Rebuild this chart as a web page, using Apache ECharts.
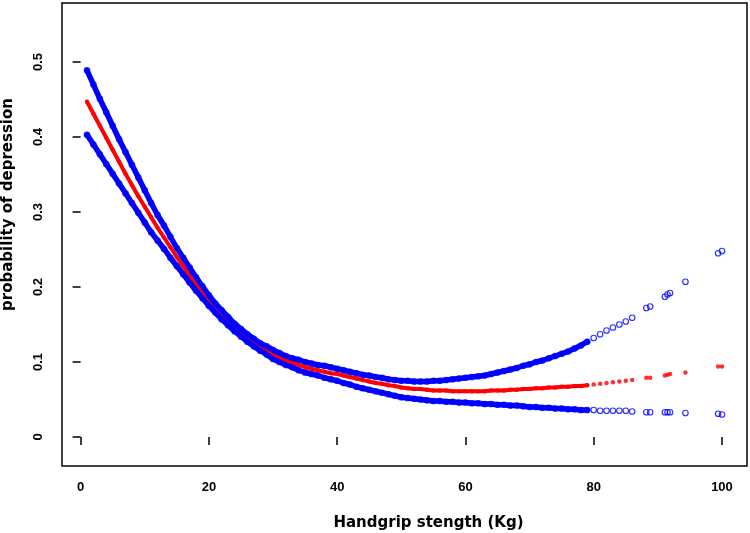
<!DOCTYPE html>
<html><head><meta charset="utf-8">
<script src="https://cdn.jsdelivr.net/npm/echarts@6/dist/echarts.min.js"></script>
<style>html,body{margin:0;padding:0;background:#fff}#c{width:750px;height:533px}</style>
</head><body><div id="c"></div>
<script>
const handgrip = [1,2,3,4,5,6,7,8,9,10,11,12,13,14,15,16,17,18,19,20,21,22,23,24,25,26,27,28,29,30,
  31,32,33,34,35,36,37,38,39,40,41,42,43,44,45,46,47,48,49,50,51,52,53,54,55,56,57,58,59,60,
  61,62,63,64,65,66,67,68,69,70,71,72,73,74,75,76,77,78,79,80,81,82,83,84,85,86,
  88.2,88.8,91.1,91.5,91.9,94.3,99.4,100];
const estimate = [.447,.431,.415,.399,.383,.367,.351,.336,.321,.307,
  .293,.279,.266,.253,.240,.228,.216,.204,.193,.182,
  .172,.163,.154,.146,.139,.132,.126,.120,.115,.110,
  .106,.102,.099,.096,.093,.091,.089,.087,.085,.084,
  .082,.080,.078,.076,.074,.072,.071,.069,.068,.066,
  .065,.064,.064,.063,.062,.062,.062,.061,.061,.061,
  .061,.061,.061,.062,.062,.062,.063,.063,.064,.064,
  .065,.065,.066,.066,.067,.067,.068,.068,.069,.070,
  .071,.072,.073,.074,.075,.076,
  .079,.079,.082,.083,.084,.086,.094,.094];
const upperCI = [.489,.470,.451,.433,.415,.397,.380,.363,.346,.329,
  .312,.296,.282,.267,.252,.239,.226,.213,.201,.189,
  .178,.169,.160,.151,.144,.137,.131,.125,.121,.116,
  .112,.108,.105,.103,.100,.098,.096,.095,.093,.091,
  .089,.087,.085,.083,.082,.080,.079,.077,.076,.075,
  .075,.074,.074,.074,.075,.075,.076,.077,.078,.079,
  .080,.081,.082,.084,.086,.088,.090,.092,.095,.097,
  .100,.102,.105,.108,.111,.114,.118,.122,.127,.132,
  .137,.142,.146,.150,.154,.159,
  .172,.174,.187,.190,.192,.207,.245,.248];
const lowerCI = [.403,.390,.377,.364,.351,.338,.325,.312,.299,.286,
  .273,.262,.251,.239,.228,.217,.206,.195,.185,.175,
  .166,.157,.149,.141,.134,.127,.121,.115,.110,.104,
  .100,.096,.093,.089,.086,.084,.082,.079,.077,.075,
  .072,.070,.067,.065,.063,.061,.059,.057,.055,.053,
  .052,.051,.050,.049,.048,.048,.047,.047,.046,.046,
  .045,.045,.044,.044,.043,.043,.042,.042,.041,.040,
  .040,.039,.039,.038,.038,.037,.037,.036,.036,.036,
  .035,.035,.035,.035,.035,.034,
  .033,.033,.033,.033,.033,.032,.031,.030];
const xTicks = [0,20,40,60,80,100];
const yTicks = [0,0.1,0.2,0.3,0.4,0.5];
const denseLimit = 79;

const BLUE = '#0000ff', RED = '#ff0000';
function pts(ys){ return handgrip.map((x,i)=>[x, ys[i]]); }
function densePts(ys){ return pts(ys).filter(p=>p[0]<=denseLimit); }

const chart = echarts.init(document.getElementById('c'), null, {renderer:'canvas'});
const tickLabel = {fontFamily:'Liberation Sans, Arial, sans-serif', fontWeight:'bold', fontSize:13, color:'#000'};
const titleBase = {fontFamily:'DejaVu Sans, Verdana, sans-serif', fontWeight:'bold', fontSize:15, color:'#000'};
chart.setOption({
  animation:false,
  backgroundColor:'#fff',
  grid:{left:62, right:3, top:3, bottom:67, containLabel:false, outerBoundsMode:'none', show:true, borderColor:'#000', borderWidth:1.5, backgroundColor:'transparent'},
  xAxis:{type:'value', min:-2.9, max:103.9,
    name:'Handgrip stength (Kg)', nameLocation:'middle', nameGap:50,
    nameTextStyle:Object.assign({padding:[0,0,0,48]}, titleBase),
    axisLine:{show:false}, splitLine:{show:false},
    axisTick:{show:true, inside:false, length:8, customValues:xTicks, lineStyle:{color:'#000', width:1.5}},
    axisLabel:Object.assign({customValues:xTicks, margin:15}, tickLabel)},
  yAxis:{type:'value', min:-0.0387, max:0.5787,
    name:'probability of depression', nameLocation:'middle', nameRotate:90, nameGap:46,
    nameTextStyle:Object.assign({padding:[0,0,0,60]}, titleBase),
    axisLine:{show:false}, splitLine:{show:false},
    axisTick:{show:true, inside:false, length:8, customValues:yTicks, lineStyle:{color:'#000', width:1.5}},
    axisLabel:Object.assign({customValues:yTicks, margin:17, rotate:90}, tickLabel)},
  series:[
    {type:'line', data:densePts(estimate), showSymbol:false, silent:true, lineStyle:{color:RED, width:4, cap:'round', join:'round'}},
    {type:'scatter', data:pts(estimate), symbol:'circle', symbolSize:4.5, silent:true, itemStyle:{color:RED}},
    {type:'line', data:densePts(upperCI), showSymbol:false, silent:true, lineStyle:{color:BLUE, width:5.5, cap:'round', join:'round'}},
    {type:'line', data:densePts(lowerCI), showSymbol:false, silent:true, lineStyle:{color:BLUE, width:5.5, cap:'round', join:'round'}},
    {type:'scatter', data:pts(upperCI), symbol:'circle', symbolSize:5.5, silent:true, itemStyle:{color:'rgba(0,0,0,0)', borderColor:BLUE, borderWidth:1.2}},
    {type:'scatter', data:pts(lowerCI), symbol:'circle', symbolSize:5.5, silent:true, itemStyle:{color:'rgba(0,0,0,0)', borderColor:BLUE, borderWidth:1.2}}
  ]
});
</script></body></html>
